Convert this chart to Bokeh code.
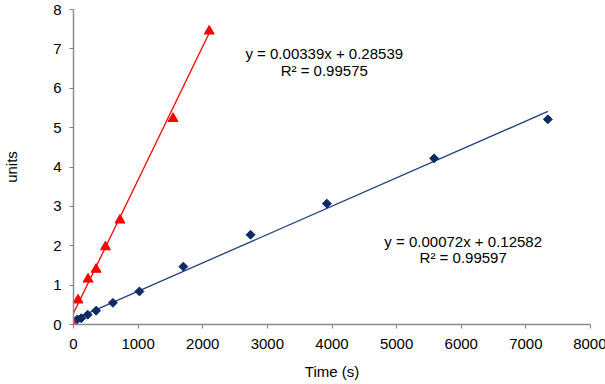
import numpy as np
from bokeh.plotting import figure
from bokeh.models import Range1d, Label, FixedTicker
from bokeh.embed import file_html
from bokeh.resources import INLINE

# Data
blue_time = [0, 60, 120, 220, 350, 610, 1020, 1700, 2740, 3920, 5580, 7340]
blue_units = [0.0, 0.13, 0.16, 0.25, 0.35, 0.55, 0.84, 1.47, 2.28, 3.07, 4.22, 5.21]
red_time = [0, 70, 225, 350, 495, 720, 1540, 2100]
red_units = [0.0, 0.62, 1.15, 1.40, 1.97, 2.65, 5.23, 7.45]

red_slope, red_intercept, red_r2 = 0.00339, 0.28539, 0.99575
blue_slope, blue_intercept, blue_r2 = 0.00072, 0.12582, 0.99597

x_ticks = [0, 1000, 2000, 3000, 4000, 5000, 6000, 7000, 8000]
y_ticks = [0, 1, 2, 3, 4, 5, 6, 7, 8]

FONT = "Liberation Sans"
FS = "15px"
RED = "#ff0000"
NAVY = "#0c2a66"
NAVY_LINE = "#1f3f7f"

p = figure(frame_width=517, frame_height=315,
           x_range=Range1d(0, 8000), y_range=Range1d(0, 8),
           output_backend="svg", toolbar_location=None,
           min_border_left=63, min_border_right=16,
           min_border_top=9, min_border_bottom=50)
p.outline_line_color = None
p.xgrid.visible = False
p.ygrid.visible = False
p.background_fill_color = "white"

for ax in (p.xaxis[0], p.yaxis[0]):
    ax.axis_line_color = "#8c8c8c"
    ax.axis_line_width = 1.5
    ax.major_tick_line_color = "#808080"
    ax.major_tick_in = 0
    ax.major_tick_out = 4
    ax.minor_tick_line_color = None
    ax.major_label_text_font = FONT
    ax.major_label_text_font_size = FS
    ax.major_label_text_color = "#000000"
    ax.axis_label_text_font = FONT
    ax.axis_label_text_font_size = FS
    ax.axis_label_text_font_style = "normal"
    ax.axis_label_text_color = "#000000"

p.xaxis[0].ticker = FixedTicker(ticks=x_ticks)
p.yaxis[0].ticker = FixedTicker(ticks=y_ticks)
p.xaxis[0].axis_label = "Time (s)"
p.yaxis[0].axis_label = "units"
p.xaxis[0].major_label_standoff = 10
p.xaxis[0].axis_label_standoff = 11
p.yaxis[0].major_label_standoff = 8
p.yaxis[0].axis_label_standoff = 30

# Trendlines
rx = np.array([0, max(red_time)])
bx = np.array([0, max(blue_time)])
p.line(rx, red_slope * rx + red_intercept, line_color=RED, line_width=1.3)
p.line(bx, blue_slope * bx + blue_intercept, line_color=NAVY_LINE, line_width=1.3)

# Points
p.scatter(blue_time, blue_units, marker="square", angle=np.pi / 4, size=6.3,
          fill_color=NAVY, line_color=NAVY)
p.scatter(red_time, red_units, marker="triangle", size=10,
          fill_color=RED, line_color=RED)

def add_label(x, y, text):
    p.add_layout(Label(x=x, y=y, text=text, text_font=FONT, text_font_size=FS,
                       text_color="#000000", text_align="center",
                       text_baseline="middle"))

add_label(3880, 6.87, f"y = {red_slope:.5f}x + {red_intercept:.5f}")
add_label(3880, 6.45, f"R\u00b2 = {red_r2:.5f}")
add_label(6030, 2.12, f"y = {blue_slope:.5f}x + {blue_intercept:.5f}")
add_label(6030, 1.69, f"R\u00b2 = {blue_r2:.5f}")

open("out.html", "w").write(file_html(p, INLINE))
